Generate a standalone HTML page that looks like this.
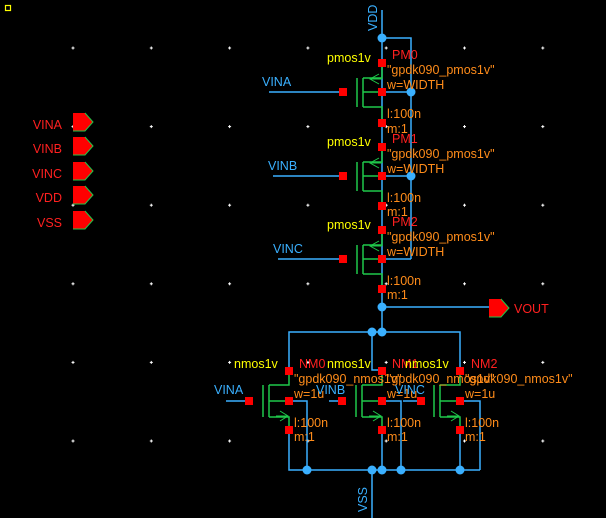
<!DOCTYPE html>
<html><head><meta charset="utf-8"><style>
html,body{margin:0;padding:0;background:#000;width:606px;height:518px;overflow:hidden}
svg{display:block}
text{font-family:"Liberation Sans",sans-serif;font-size:12.5px}
.y{fill:#ffff00}.r{fill:#ff2020}.o{fill:#ff8c1a}.b{fill:#3ab0ff}
</style></head><body>
<svg width="606" height="518" viewBox="0 0 606 518" xmlns="http://www.w3.org/2000/svg">
<defs>
<pattern id="gp" x="71.5" y="46.5" width="78.3" height="78.6" patternUnits="userSpaceOnUse">
<rect x="0" y="1" width="3" height="1" fill="#fff"/><rect x="1" y="0" width="1" height="3" fill="#fff"/>
</pattern>
</defs>
<rect width="606" height="518" fill="#000"/>
<rect x="60" y="40" width="546" height="410" fill="url(#gp)"/>
<rect x="5.5" y="5.5" width="5" height="5" fill="none" stroke="#ffff00" stroke-width="1.2"/>

<!-- left pins -->
<g>
<g transform="translate(0,113)"><path d="M73 0H85L93 9L85 18H73Z" fill="#ff0000"/><path d="M85 0L93 9L85 18H73" fill="none" stroke="#1fc84a" stroke-width="1"/><text x="62" y="16" class="r" text-anchor="end">VINA</text></g>
<g transform="translate(0,137)"><path d="M73 0H85L93 9L85 18H73Z" fill="#ff0000"/><path d="M85 0L93 9L85 18H73" fill="none" stroke="#1fc84a" stroke-width="1"/><text x="62" y="16" class="r" text-anchor="end">VINB</text></g>
<g transform="translate(0,162)"><path d="M73 0H85L93 9L85 18H73Z" fill="#ff0000"/><path d="M85 0L93 9L85 18H73" fill="none" stroke="#1fc84a" stroke-width="1"/><text x="62" y="16" class="r" text-anchor="end">VINC</text></g>
<g transform="translate(0,186)"><path d="M73 0H85L93 9L85 18H73Z" fill="#ff0000"/><path d="M85 0L93 9L85 18H73" fill="none" stroke="#1fc84a" stroke-width="1"/><text x="62" y="16" class="r" text-anchor="end">VDD</text></g>
<g transform="translate(0,211)"><path d="M73 0H85L93 9L85 18H73Z" fill="#ff0000"/><path d="M85 0L93 9L85 18H73" fill="none" stroke="#1fc84a" stroke-width="1"/><text x="62" y="16" class="r" text-anchor="end">VSS</text></g>
</g>

<!-- blue wires -->
<g stroke="#3ab0ff" stroke-width="1.5" fill="none">
<path d="M382 10V307"/>
<path d="M382 38H411V259"/>
<path d="M269 92H343M382 92H411"/>
<path d="M273 176H343M382 176H411"/>
<path d="M278 259H343M382 259H411"/>
<path d="M382 307H490"/>
<path d="M382 307V332"/>
<path d="M289 371V332H460V371"/>
<path d="M372 332V370H382"/>
<path d="M226 401H249M329 401H342M403 401H421"/>
<path d="M289 401H307V470M382 401H401V470M460 401H480V470"/>
<path d="M289 430V470H480M382 430V470M460 430V470"/>
<path d="M372 470V518"/>
</g>

<!-- PMOS devices -->
<g id="pm" stroke="#1fc84a" stroke-width="1.5" fill="none">
<path d="M357 78V107M363 78V107M363 78H382V63M363 92H382M363 107H382V123"/>
<path d="M379 74L370 79L379 84M370 79H382" stroke-width="1"/>
</g>
<use href="#pm" y="84"/>
<use href="#pm" y="167"/>

<!-- NMOS devices -->
<g id="nm" stroke="#1fc84a" stroke-width="1.5" fill="none">
<path d="M263 385V417M269 385V417M269 385H289V371M269 401H289M269 417H289V430"/>
<path d="M280 411L288 416L280 421M276 416H288" stroke-width="1"/>
</g>
<use href="#nm" x="93"/>
<use href="#nm" x="171"/>

<!-- red terminals -->
<g fill="#ff0000">
<rect x="378" y="59" width="8" height="8"/><rect x="339" y="88" width="8" height="8"/><rect x="378" y="88" width="8" height="8"/><rect x="378" y="119" width="8" height="8"/>
<rect x="378" y="143" width="8" height="8"/><rect x="339" y="172" width="8" height="8"/><rect x="378" y="172" width="8" height="8"/><rect x="378" y="202" width="8" height="8"/>
<rect x="378" y="226" width="8" height="8"/><rect x="339" y="255" width="8" height="8"/><rect x="378" y="255" width="8" height="8"/><rect x="378" y="285" width="8" height="8"/>
<rect x="285" y="367" width="8" height="8"/><rect x="245" y="397" width="8" height="8"/><rect x="285" y="397" width="8" height="8"/><rect x="285" y="426" width="8" height="8"/>
<rect x="378" y="367" width="8" height="8"/><rect x="338" y="397" width="8" height="8"/><rect x="378" y="397" width="8" height="8"/><rect x="378" y="426" width="8" height="8"/>
<rect x="456" y="367" width="8" height="8"/><rect x="417" y="397" width="8" height="8"/><rect x="456" y="397" width="8" height="8"/><rect x="456" y="426" width="8" height="8"/>
</g>

<!-- dots -->
<g fill="#3ab0ff">
<circle cx="382" cy="38" r="4.5"/><circle cx="411" cy="92" r="4.5"/><circle cx="411" cy="176" r="4.5"/>
<circle cx="382" cy="307" r="4.5"/><circle cx="372" cy="332" r="4.5"/><circle cx="382" cy="332" r="4.5"/>
<circle cx="307" cy="470" r="4.5"/><circle cx="372" cy="470" r="4.5"/><circle cx="382" cy="470" r="4.5"/><circle cx="401" cy="470" r="4.5"/><circle cx="460" cy="470" r="4.5"/>
</g>

<!-- VOUT pin -->
<path d="M489 299H501L509 308L501 317H489Z" fill="#ff0000"/>
<path d="M501 299L509 308L501 317H489" fill="none" stroke="#1fc84a" stroke-width="1"/>
<text x="514" y="313" class="r">VOUT</text>

<!-- labels -->
<text class="b" transform="translate(377,31) rotate(-90)">VDD</text>
<text class="b" transform="translate(367,512) rotate(-90)">VSS</text>

<text x="327" y="62" class="y">pmos1v</text>
<text x="392" y="59" class="r">PM0</text>
<text x="387" y="74" class="o">"gpdk090_pmos1v"</text>
<text x="387" y="89" class="o">w=WIDTH</text>
<text x="387" y="118" class="o">l:100n</text>
<text x="387" y="133" class="o">m:1</text>
<text x="327" y="146" class="y">pmos1v</text><text x="392" y="143" class="r">PM1</text>
<text x="387" y="158" class="o">"gpdk090_pmos1v"</text><text x="387" y="173" class="o">w=WIDTH</text>
<text x="387" y="202" class="o">l:100n</text><text x="387" y="216" class="o">m:1</text>
<text x="327" y="229" class="y">pmos1v</text><text x="392" y="226" class="r">PM2</text>
<text x="387" y="241" class="o">"gpdk090_pmos1v"</text><text x="387" y="256" class="o">w=WIDTH</text>
<text x="387" y="285" class="o">l:100n</text><text x="387" y="299" class="o">m:1</text>
<text x="262" y="86" class="b">VINA</text>
<text x="268" y="170" class="b">VINB</text>
<text x="273" y="253" class="b">VINC</text>

<text x="234" y="368" class="y">nmos1v</text><text x="299" y="368" class="r">NM0</text>
<text x="327" y="368" class="y">nmos1v</text><text x="392" y="368" class="r">NM1</text>
<text x="405" y="368" class="y">nmos1v</text><text x="471" y="368" class="r">NM2</text>
<text x="294" y="383" class="o">"gpdk090_nmos1v"</text>
<text x="387" y="383" class="o">"gpdk090_nmos1v"</text>
<text x="465" y="383" class="o">"gpdk090_nmos1v"</text>
<text x="294" y="398" class="o">w=1u</text><text x="387" y="398" class="o">w=1u</text><text x="465" y="398" class="o">w=1u</text>
<text x="294" y="427" class="o">l:100n</text><text x="387" y="427" class="o">l:100n</text><text x="465" y="427" class="o">l:100n</text>
<text x="294" y="441" class="o">m:1</text><text x="387" y="441" class="o">m:1</text><text x="465" y="441" class="o">m:1</text>
<text x="214" y="394" class="b">VINA</text>
<text x="316" y="394" class="b">VINB</text>
<text x="395" y="394" class="b">VINC</text>
</svg>
</body></html>
